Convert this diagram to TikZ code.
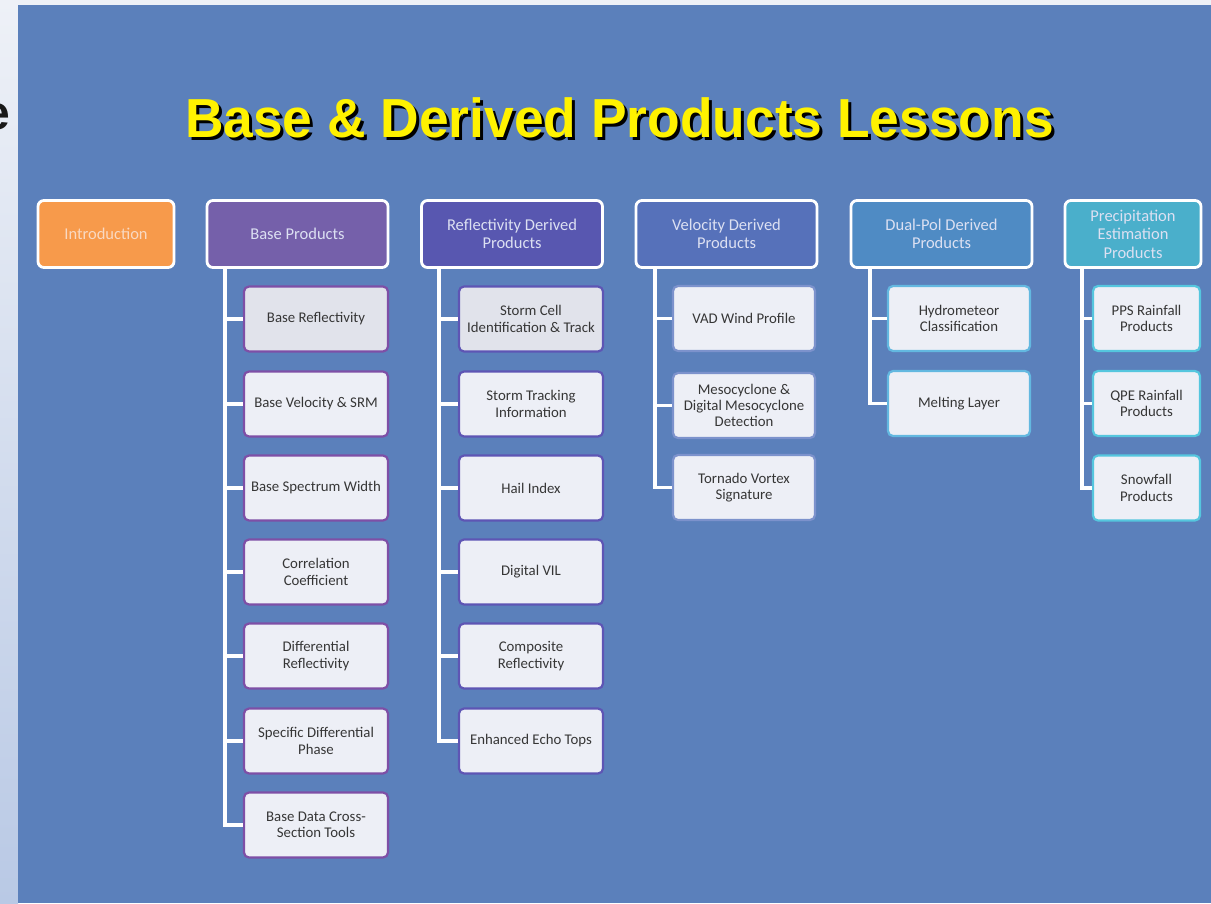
\documentclass[tikz,border=0pt]{standalone}
\usepackage{fontspec}
\setmainfont{Carlito}
\newfontfamily\titlefont{Liberation Sans}[FakeStretch=0.97]
\newfontfamily\edgefont{Liberation Sans}
\definecolor{bgblue}{HTML}{5B80BB}
\definecolor{stripTop}{HTML}{EEF1F7}
\definecolor{stripBot}{HTML}{B9C9E5}
\definecolor{cIntro}{HTML}{F79A4B}
\definecolor{cBase}{HTML}{7560AA}
\definecolor{cRefl}{HTML}{5857B0}
\definecolor{cVel}{HTML}{5671BA}
\definecolor{cDual}{HTML}{4F8BC4}
\definecolor{cPrec}{HTML}{4AAFCB}
\definecolor{kBase}{HTML}{7E4FA6}
\definecolor{kRefl}{HTML}{5E55B4}
\definecolor{kVel}{HTML}{7C92CC}
\definecolor{kDual}{HTML}{63B8E0}
\definecolor{kPrec}{HTML}{55C6DE}
\definecolor{childfill}{HTML}{EDEFF6}
\definecolor{childsel}{HTML}{E1E3EB}
\definecolor{childtext}{HTML}{363636}
\definecolor{hdrtext}{HTML}{DCE0F2}
\definecolor{introtext}{HTML}{F9D9C2}
\tikzset{
  hdr/.style={draw=white, line width=2.8pt, rounded corners=6pt,
    minimum width=181pt, minimum height=67pt, align=center,
    text=hdrtext, font=\fontsize{16.5}{18.5}\selectfont, inner sep=2pt},
  child/.style={line width=2.2pt, rounded corners=5pt, fill=childfill,
    minimum width=144pt, minimum height=65pt, align=center,
    text=childtext, font=\fontsize{14.8}{16.3}\selectfont, inner sep=1pt},
  conn/.style={draw=white, line width=3.3pt},
  titletext/.style={font=\titlefont\bfseries\fontsize{55}{55}\selectfont, inner sep=0pt}
}
\begin{document}
\begin{tikzpicture}[x=1pt,y=-1pt]
\useasboundingbox (0,0) rectangle (1211,903);
% slide background
\fill[stripTop] (0,0) rectangle (1211,903);
\shade[top color=stripTop, bottom color=stripBot] (0,0) rectangle (18,903);
\fill[bgblue] (18,5) rectangle (1211,903);
% edge of a neighbouring slide's word
\node[anchor=base east, text=black!90, inner sep=0pt,
  font=\edgefont\bfseries\fontsize{48}{48}\selectfont] (edge) at (10,129) {e};
% title with drop shadow
\node[titletext, text=black] (titleshadow) at (622.5,121) {Base \& Derived Products Lessons};
\node[titletext, text=yellow] (title) at (619.5,118) {Base \& Derived Products Lessons};

% column headers
\node[hdr, fill=cIntro, text=introtext, minimum width=136pt] (intro) at (106,234) {Introduction};
\node[hdr, fill=cBase] (base) at (297.5,234) {Base Products};
\node[hdr, fill=cRefl] (refl) at (512,234) {Reflectivity Derived\\Products};
\node[hdr, fill=cVel] (vel) at (726.5,234) {Velocity Derived\\Products};
\node[hdr, fill=cDual] (dual) at (941.5,234) {Dual-Pol Derived\\Products};
\node[hdr, fill=cPrec, minimum width=136pt] (prec) at (1133,234) {Precipitation\\Estimation\\Products};

% base products
\node[child, draw=kBase, fill=childsel] (b1) at (316,319) {Base Reflectivity};
\node[child, draw=kBase] (b2) at (316,404) {Base Velocity \& SRM};
\node[child, draw=kBase] (b3) at (316,488) {Base Spectrum Width};
\node[child, draw=kBase] (b4) at (316,572) {Correlation\\Coefficient};
\node[child, draw=kBase] (b5) at (316,656) {Differential\\Reflectivity};
\node[child, draw=kBase] (b6) at (316,741) {Specific Differential\\Phase};
\node[child, draw=kBase] (b7) at (316,825) {Base Data Cross-\\Section Tools};

% reflectivity derived products
\node[child, draw=kRefl, fill=childsel] (r1) at (531,319) {Storm Cell\\Identification \& Track};
\node[child, draw=kRefl] (r2) at (531,404) {Storm Tracking\\Information};
\node[child, draw=kRefl] (r3) at (531,488) {Hail Index};
\node[child, draw=kRefl] (r4) at (531,572) {Digital VIL};
\node[child, draw=kRefl] (r5) at (531,656) {Composite\\Reflectivity};
\node[child, draw=kRefl] (r6) at (531,741) {Enhanced Echo Tops};

% velocity derived products
\node[child, draw=kVel, minimum width=142pt] (v1) at (744,318.5) {VAD Wind Profile};
\node[child, draw=kVel, minimum width=142pt] (v2) at (744,405.5) {Mesocyclone \&\\Digital Mesocyclone\\Detection};
\node[child, draw=kVel, minimum width=142pt] (v3) at (744,487.5) {Tornado Vortex\\Signature};

% dual-pol derived products
\node[child, draw=kDual, minimum width=142pt] (d1) at (959,318.5) {Hydrometeor\\Classification};
\node[child, draw=kDual, minimum width=142pt] (d2) at (959,403.5) {Melting Layer};

% precipitation estimation products
\node[child, draw=kPrec, minimum width=107pt] (p1) at (1146.5,318.5) {PPS Rainfall\\Products};
\node[child, draw=kPrec, minimum width=107pt] (p2) at (1146.5,403.5) {QPE Rainfall\\Products};
\node[child, draw=kPrec, minimum width=107pt] (p3) at (1146.5,488) {Snowfall\\Products};

% trunk tops
\coordinate (bt) at (225,267.5);
\coordinate (rt) at (439,267.5);
\coordinate (vt) at (655,267.5);
\coordinate (dt) at (870,267.5);
\coordinate (pt) at (1082,267.5);

% connectors
\draw[conn] (bt) |- (b7.west);
\foreach \c in {b1,b2,b3,b4,b5,b6} \draw[conn] (bt |- \c.west) -- (\c.west);
\draw[conn] (rt) |- (r6.west);
\foreach \c in {r1,r2,r3,r4,r5} \draw[conn] (rt |- \c.west) -- (\c.west);
\draw[conn] (vt) |- (v3.west);
\foreach \c in {v1,v2} \draw[conn] (vt |- \c.west) -- (\c.west);
\draw[conn] (dt) |- (d2.west);
\draw[conn] (dt |- d1.west) -- (d1.west);
\draw[conn] (pt) |- (p3.west);
\foreach \c in {p1,p2} \draw[conn] (pt |- \c.west) -- (\c.west);
\end{tikzpicture}
\end{document}
